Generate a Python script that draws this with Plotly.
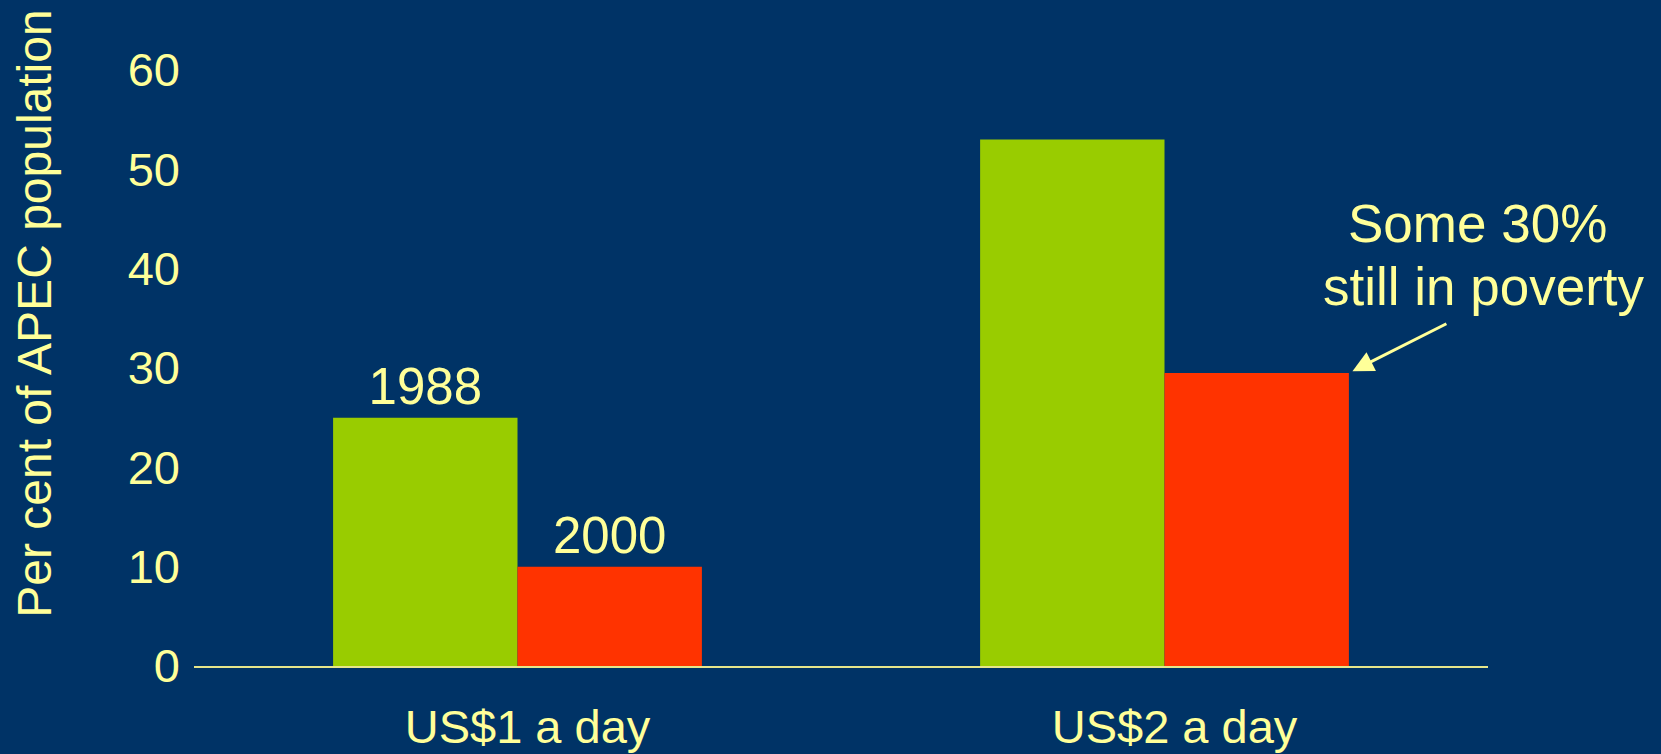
import plotly.graph_objects as go

categories = ["US$1 a day", "US$2 a day"]
series_names = ["1988", "2000"]
values_1988 = [25.0, 53.0]
values_2000 = [10.0, 29.5]
bar_labels_1988 = ["1988", ""]
bar_labels_2000 = ["2000", ""]
y_ticks = [0, 10, 20, 30, 40, 50, 60]
y_title = "Per cent of APEC population"
callout_lines = ["Some 30%", "still in poverty"]

BG = "#003366"
TXT = "#FFFF99"
GREEN = "#99CC00"
RED = "#FF3300"
FONT = "Liberation Sans, Arial, sans-serif"
BARGAP = 0.43

fig = go.Figure()
fig.add_trace(go.Bar(x=categories, y=values_1988, name=series_names[0],
                     marker=dict(color=GREEN, line=dict(width=0)),
                     text=bar_labels_1988, textposition="outside",
                     textfont=dict(family=FONT, size=51, color=TXT),
                     cliponaxis=False))
fig.add_trace(go.Bar(x=categories, y=values_2000, name=series_names[1],
                     marker=dict(color=RED, line=dict(width=0)),
                     text=bar_labels_2000, textposition="outside",
                     textfont=dict(family=FONT, size=51, color=TXT),
                     cliponaxis=False))

fig.update_layout(
    width=1661, height=754,
    paper_bgcolor=BG, plot_bgcolor=BG,
    margin=dict(l=194, r=173, t=70, b=88, autoexpand=False),
    barmode="group", bargap=BARGAP, bargroupgap=0,
    showlegend=False,
    font=dict(family=FONT, color=TXT, size=47),
)
fig.update_xaxes(showline=True, linecolor="#E6E68A", linewidth=1.5,
                 showgrid=False, zeroline=False, ticks="", automargin=False,
                 tickfont=dict(family=FONT, size=47, color=TXT),
                 ticklabelstandoff=19, ticklabelshift=10, range=[-0.5, 1.5])
fig.update_yaxes(range=[0, 60], tickvals=y_ticks, showgrid=False,
                 zeroline=False, showline=False, ticks="", automargin=False,
                 tickfont=dict(family=FONT, size=47, color=TXT),
                 ticklabelstandoff=13)

fig.add_annotation(text=y_title, xref="paper", yref="paper",
                   x=-0.1229, y=0.591, xanchor="center", yanchor="middle",
                   textangle=-90, showarrow=False,
                   font=dict(family=FONT, size=48, color=TXT))

for line, lx, ly in zip(callout_lines, [0.9915, 0.9969], [0.7428, 0.6366]):
    fig.add_annotation(text=line, xref="paper", yref="paper",
                       x=lx, y=ly, xanchor="center", yanchor="middle",
                       showarrow=False,
                       font=dict(family=FONT, size=53, color=TXT))

# arrow pointing to the top-right corner of the 2000 bar in the second group
fig.add_annotation(x=1 + (1 - BARGAP) / 2, y=values_2000[1], xref="x", yref="y",
                   text="", showarrow=True, arrowhead=2, arrowsize=1.4,
                   arrowwidth=3, arrowcolor=TXT, ax=99, ay=-50,
                   standoff=4)

fig.write_html("out.html", config={"displayModeBar": False},
               post_script="document.body.style.margin='0';document.body.style.overflow='hidden';")
